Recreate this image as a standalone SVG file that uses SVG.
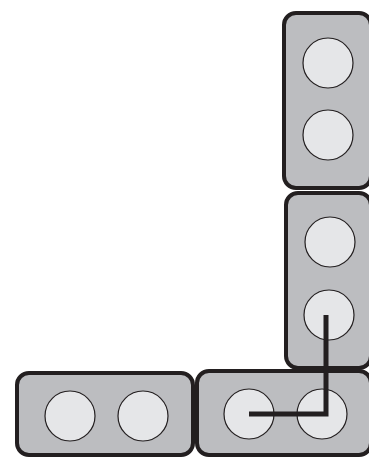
<svg xmlns="http://www.w3.org/2000/svg" width="369" height="458" viewBox="0 0 369 458">
<style>
.box{fill:#bcbdc0;stroke:#231f20;stroke-width:4}
.hole{fill:#e5e6e8;stroke:#231f20;stroke-width:1.2}
.wire{fill:none;stroke:#231f20;stroke-width:5;stroke-linejoin:miter}
</style>
<rect width="369" height="458" fill="#fff"/>
<g id="block-top">
<rect class="box" x="284" y="13" width="87" height="175" rx="12"/>
<circle class="hole" cx="328" cy="63" r="25"/>
<circle class="hole" cx="328" cy="135" r="25"/>
</g>
<g id="block-middle">
<rect class="box" x="286" y="193" width="85" height="175" rx="12"/>
<circle class="hole" cx="330" cy="242" r="25"/>
<circle class="hole" cx="329" cy="315" r="25"/>
</g>
<g id="block-bottom-left">
<rect class="box" x="17" y="373" width="176" height="82" rx="12"/>
<circle class="hole" cx="70" cy="416" r="25"/>
<circle class="hole" cx="143" cy="416" r="25"/>
</g>
<g id="block-bottom-right">
<rect class="box" x="197" y="371" width="174" height="84" rx="12"/>
<circle class="hole" cx="249" cy="414" r="25"/>
<circle class="hole" cx="322" cy="414" r="25"/>
</g>
<g id="connectors">
<polyline class="wire" points="249,414 326,414 326,315"/>
</g>
</svg>
